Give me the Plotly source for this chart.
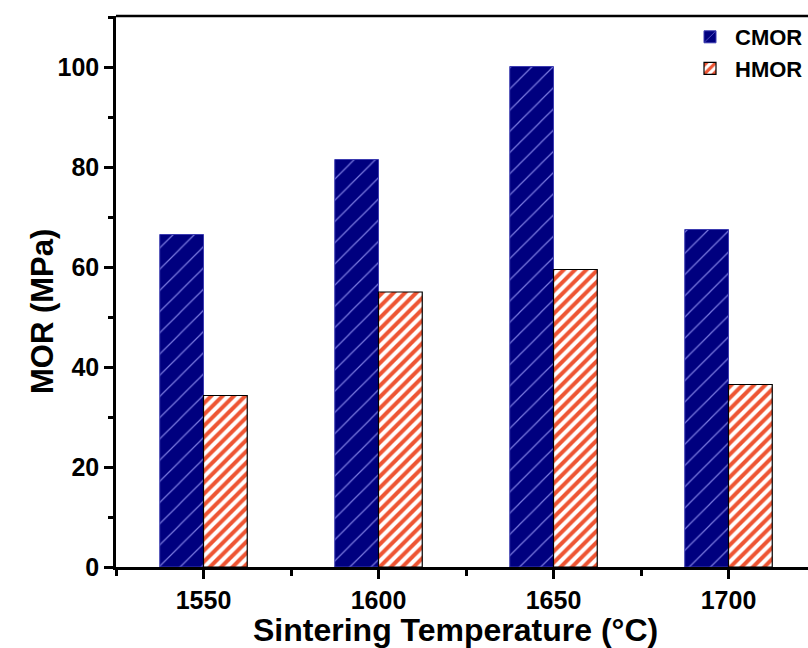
import plotly.graph_objects as go

temps = [1550, 1600, 1650, 1700]
cmor = [66.5, 81.5, 100.1, 67.5]
hmor = [34.3, 55.0, 59.5, 36.5]
xtick_vals = [1550, 1600, 1650, 1700]
xtick_text = ["1550", "1600", "1650", "1700"]
ytick_vals = [0, 20, 40, 60, 80, 100]

FONT = "Liberation Sans"

fig = go.Figure()
fig.add_trace(go.Bar(
    x=temps, y=cmor, name="CMOR",
    marker=dict(color="#00007f",
                line=dict(color="#3b3bb0", width=1),
                pattern=dict(shape="/", bgcolor="#00007f", fgcolor="#7a7ae0",
                             size=15, solidity=0.08, fillmode="replace")),
))
fig.add_trace(go.Bar(
    x=temps, y=hmor, name="HMOR",
    marker=dict(color="white",
                line=dict(color="black", width=1.2),
                pattern=dict(shape="/", bgcolor="white", fgcolor="#ee5533",
                             size=8, solidity=0.5, fillmode="replace")),
))

fig.update_layout(
    width=808, height=648,
    margin=dict(l=116, r=0, t=16, b=81),
    paper_bgcolor="white", plot_bgcolor="white",
    barmode="group", bargap=0.5, bargroupgap=0,
    font=dict(family=FONT, color="black", weight="bold"),
    legend=dict(x=1.0, y=1.0, xanchor="right", yanchor="top",
                bgcolor="rgba(0,0,0,0)", font=dict(size=22, family=FONT, weight="bold"),
                itemwidth=40, tracegroupgap=0),
    showlegend=True,
)

fig.update_xaxes(
    range=[1525, 1525 + (808 - 116) / 3.5],
    tickvals=xtick_vals, ticktext=xtick_text,
    ticks="outside", ticklen=9, tickwidth=2.5, tickcolor="black",
    showline=True, linewidth=2.5, linecolor="black", mirror=False,
    showgrid=False, zeroline=False,
    tickfont=dict(size=25, family=FONT, weight="bold"),
    minor=dict(tickvals=[1525, 1575, 1625, 1675, 1725], ticks="outside", ticklen=6, tickwidth=2.5, tickcolor="black"),
)
fig.update_yaxes(
    range=[0, 110.2],
    tickvals=ytick_vals,
    ticks="outside", ticklen=9, tickwidth=2.5, tickcolor="black",
    showline=True, linewidth=2.5, linecolor="black", mirror=False,
    showgrid=False, zeroline=False,
    tickfont=dict(size=25, family=FONT, weight="bold"),
    minor=dict(tickvals=[10, 30, 50, 70, 90, 110], ticks="outside", ticklen=5, tickwidth=2.5, tickcolor="black"),
)

# axis titles as annotations for exact placement
fig.add_annotation(text="Sintering Temperature (°C)", xref="paper", yref="paper",
                   x=0.49, y=-0.149, xanchor="center", yanchor="bottom", showarrow=False,
                   borderpad=0,
                   font=dict(size=32, family=FONT, weight="bold", color="black"))
fig.add_annotation(text="MOR (MPa)", xref="paper", yref="paper", textangle=-90,
                   x=-0.107, y=0.4646, xanchor="center", yanchor="middle", showarrow=False,
                   font=dict(size=31, family=FONT, weight="bold", color="black"))

# top frame line
fig.add_shape(type="line", xref="paper", yref="paper", x0=0, x1=1, y0=1, y1=1,
              line=dict(color="black", width=2.5))

fig.write_html("out.html")
